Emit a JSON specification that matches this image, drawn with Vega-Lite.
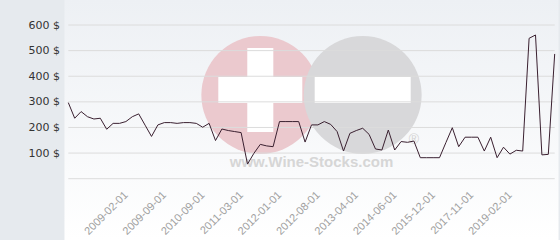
{
  "$schema": "https://vega.github.io/schema/vega-lite/v6.json",
  "autosize": {"type": "none"},
  "width": 494.08,
  "height": 240,
  "padding": {"left": 64.46, "top": 0, "right": 1.46, "bottom": 0},
  "background": "#e6eaee",
  "view": {"stroke": null, "fill": {"gradient": "linear", "x1": 0, "y1": 0, "x2": 0, "y2": 1, "stops": [{"offset": 0, "color": "#edf0f4"}, {"offset": 1, "color": "#ffffff"}]}},
  "datasets": {
    "series": [
      {"date": "2008-05-01", "price": 297}, {"date": "2008-06-01", "price": 236}, {"date": "2008-07-01", "price": 262},
      {"date": "2008-08-01", "price": 242}, {"date": "2008-09-01", "price": 233}, {"date": "2008-10-01", "price": 236},
      {"date": "2008-11-01", "price": 193}, {"date": "2008-12-01", "price": 216}, {"date": "2009-01-01", "price": 216},
      {"date": "2009-02-01", "price": 223}, {"date": "2009-03-01", "price": 242}, {"date": "2009-04-01", "price": 253},
      {"date": "2009-05-01", "price": 209}, {"date": "2009-06-01", "price": 165}, {"date": "2009-08-01", "price": 210},
      {"date": "2009-09-01", "price": 219}, {"date": "2009-11-01", "price": 219}, {"date": "2010-01-01", "price": 216},
      {"date": "2010-03-01", "price": 219}, {"date": "2010-05-01", "price": 219}, {"date": "2010-07-01", "price": 216},
      {"date": "2010-09-01", "price": 201}, {"date": "2010-10-01", "price": 216}, {"date": "2010-11-01", "price": 149},
      {"date": "2010-12-01", "price": 194}, {"date": "2011-01-01", "price": 188}, {"date": "2011-02-01", "price": 184},
      {"date": "2011-03-01", "price": 180}, {"date": "2011-04-01", "price": 57}, {"date": "2011-06-01", "price": 99},
      {"date": "2011-08-01", "price": 134}, {"date": "2011-10-01", "price": 128}, {"date": "2011-12-01", "price": 125},
      {"date": "2012-01-01", "price": 223}, {"date": "2012-02-01", "price": 223}, {"date": "2012-03-01", "price": 223},
      {"date": "2012-04-01", "price": 223}, {"date": "2012-05-01", "price": 143}, {"date": "2012-06-01", "price": 210},
      {"date": "2012-08-01", "price": 210}, {"date": "2012-09-01", "price": 223}, {"date": "2012-10-01", "price": 212},
      {"date": "2012-11-01", "price": 184}, {"date": "2013-01-01", "price": 108}, {"date": "2013-02-01", "price": 177},
      {"date": "2013-04-01", "price": 188}, {"date": "2013-06-01", "price": 197}, {"date": "2013-08-01", "price": 173},
      {"date": "2013-10-01", "price": 116}, {"date": "2014-01-01", "price": 112}, {"date": "2014-03-01", "price": 190},
      {"date": "2014-06-01", "price": 112}, {"date": "2014-08-01", "price": 145}, {"date": "2014-11-01", "price": 142},
      {"date": "2015-02-01", "price": 147}, {"date": "2015-05-01", "price": 82}, {"date": "2015-09-01", "price": 82},
      {"date": "2015-12-01", "price": 82}, {"date": "2016-03-01", "price": 82}, {"date": "2016-07-01", "price": 141},
      {"date": "2016-11-01", "price": 199}, {"date": "2017-03-01", "price": 125}, {"date": "2017-07-01", "price": 162},
      {"date": "2017-11-01", "price": 162}, {"date": "2018-01-01", "price": 162}, {"date": "2018-04-01", "price": 108},
      {"date": "2018-07-01", "price": 162}, {"date": "2018-09-01", "price": 82}, {"date": "2018-11-01", "price": 123},
      {"date": "2019-02-01", "price": 96}, {"date": "2019-04-01", "price": 111}, {"date": "2019-06-01", "price": 108},
      {"date": "2019-08-01", "price": 548}, {"date": "2019-10-01", "price": 561}, {"date": "2019-12-01", "price": 93},
      {"date": "2020-02-01", "price": 95}, {"date": "2020-04-01", "price": 487}
    ],
    "grid": [{"v": 0}, {"v": 100}, {"v": 200}, {"v": 300}, {"v": 400}, {"v": 500}, {"v": 600}]
  },
  "data": {"name": "series"},
  "encoding": {
    "x": {
      "field": "date", "type": "ordinal", "sort": null,
      "scale": {"type": "point", "padding": 0.6, "domain": ["2008-05-01","2008-06-01","2008-07-01","2008-08-01","2008-09-01","2008-10-01","2008-11-01","2008-12-01","2009-01-01","2009-02-01","2009-03-01","2009-04-01","2009-05-01","2009-06-01","2009-08-01","2009-09-01","2009-11-01","2010-01-01","2010-03-01","2010-05-01","2010-07-01","2010-09-01","2010-10-01","2010-11-01","2010-12-01","2011-01-01","2011-02-01","2011-03-01","2011-04-01","2011-06-01","2011-08-01","2011-10-01","2011-12-01","2012-01-01","2012-02-01","2012-03-01","2012-04-01","2012-05-01","2012-06-01","2012-08-01","2012-09-01","2012-10-01","2012-11-01","2013-01-01","2013-02-01","2013-04-01","2013-06-01","2013-08-01","2013-10-01","2014-01-01","2014-03-01","2014-06-01","2014-08-01","2014-11-01","2015-02-01","2015-05-01","2015-09-01","2015-12-01","2016-03-01","2016-07-01","2016-11-01","2017-03-01","2017-07-01","2017-11-01","2018-01-01","2018-04-01","2018-07-01","2018-09-01","2018-11-01","2019-02-01","2019-04-01","2019-06-01","2019-08-01","2019-10-01","2019-12-01","2020-02-01","2020-04-01"]},
      "axis": {
        "title": null, "domain": false, "ticks": false, "grid": false,
        "values": ["2009-02-01", "2009-09-01", "2010-09-01", "2011-03-01", "2012-01-01", "2012-08-01", "2013-04-01", "2014-06-01", "2015-12-01", "2017-11-01", "2019-02-01"],
        "labelAngle": -45, "labelAlign": "right", "labelBaseline": "middle",
        "labelFont": "Liberation Sans", "labelFontSize": 11, "labelColor": "#a0a0a0",
        "offset": -55, "labelPadding": 8, "labelOverlap": false
      }
    },
    "y": {
      "field": "price", "type": "quantitative",
      "scale": {"domain": [-239.3, 697.6], "nice": false, "zero": false},
      "axis": {
        "title": null, "domain": false, "ticks": false, "grid": false,
        "values": [100, 200, 300, 400, 500, 600],
        "labelExpr": "datum.value + ' $'",
        "labelFont": "DejaVu Sans", "labelFontSize": 11, "labelColor": "#333333",
        "labelPadding": 5, "labelBaseline": "middle"
      }
    }
  },
  "layer": [
    {
      "transform": [{"filter": "datum.date == '2011-08-01'"}],
      "mark": {"type": "point", "filled": true, "shape": "circle", "size": 13900, "color": "#ebc9ce", "opacity": 1},
      "encoding": {"y": {"datum": 327}}
    },
    {
      "transform": [{"filter": "datum.date == '2013-06-01'"}],
      "mark": {"type": "point", "filled": true, "shape": "circle", "size": 13900, "color": "#d8d8da", "opacity": 1},
      "encoding": {"y": {"datum": 327}}
    },
    {
      "transform": [{"filter": "datum.date == '2011-08-01'"}],
      "mark": {"type": "point", "filled": true, "shape": "M-0.31,-1H0.31V-0.31H1V0.31H0.31V1H-0.31V0.31H-1V-0.31H-0.31Z", "size": 7056, "color": "#ffffff", "opacity": 1},
      "encoding": {"y": {"datum": 346}}
    },
    {
      "transform": [{"filter": "datum.date == '2013-06-01'"}],
      "mark": {"type": "point", "filled": true, "shape": "M-1,-0.27H1V0.27H-1Z", "size": 9216, "color": "#ffffff", "opacity": 1},
      "encoding": {"y": {"datum": 346}}
    },
    {
      "transform": [{"filter": "datum.date == '2012-06-01'"}],
      "mark": {"type": "text", "text": "www.Wine-Stocks.com", "font": "Liberation Sans", "fontWeight": "bold", "fontSize": 15, "color": "#d6d6d6", "align": "center", "baseline": "middle"},
      "encoding": {"y": {"datum": 66}}
    },
    {
      "transform": [{"filter": "datum.date == '2015-02-01'"}],
      "mark": {"type": "text", "text": "®", "font": "Liberation Sans", "fontWeight": "normal", "fontSize": 14, "color": "#d4d4d4", "align": "center", "baseline": "middle"},
      "encoding": {"y": {"datum": 151}}
    },
    {
      "data": {"name": "grid"},
      "mark": {"type": "rule", "color": "#dcdcdc", "strokeWidth": 1},
      "encoding": {"x": {"datum": "2008-05-01"}, "x2": {"datum": "2020-04-01"}, "y": {"field": "v", "type": "quantitative"}}
    },
    {
      "mark": {"type": "line", "color": "#3a2030", "strokeWidth": 1, "interpolate": "linear"}
    }
  ]
}
